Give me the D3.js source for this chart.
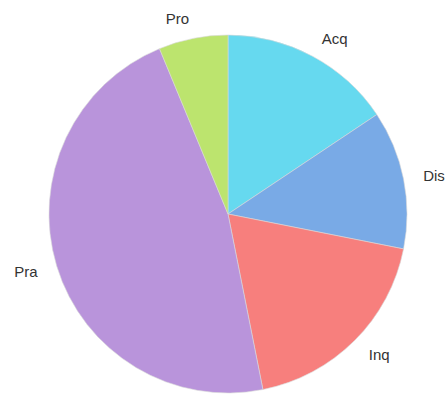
<!DOCTYPE html>
<html>
<head>
<meta charset="utf-8">
<script src="https://cdn.jsdelivr.net/npm/d3@7"></script>
<style>
  html, body { margin: 0; padding: 0; background: #fff; }
  svg { display: block; }
</style>
</head>
<body>
<svg id="chart" width="448" height="394"></svg>
<script>
// Pie of counts per category, clockwise from 12 o'clock
const categories = ["Acq", "Dis", "Inq", "Pra", "Pro"];
const values = [5, 4, 6, 15, 2];
const colors = ["#66d9ef", "#79aae6", "#f77f7d", "#b994db", "#bce46e"];

const width = 448, height = 394;
const cx = 228, cy = 214, radius = 179, labelRadius = 199;

const data = categories.map((c, i) => ({ name: c, value: values[i], color: colors[i] }));

const svg = d3.select("#chart");
const g = svg.append("g").attr("transform", `translate(${cx},${cy})`);

const pie = d3.pie().value(d => d.value).sort(null);
const arc = d3.arc().innerRadius(0).outerRadius(radius);
const labelArc = d3.arc().innerRadius(labelRadius).outerRadius(labelRadius);

const arcs = pie(data);

g.selectAll("path.slice")
  .data(arcs)
  .join("path")
  .attr("class", "slice")
  .attr("d", arc)
  .attr("fill", d => d.data.color)
  .attr("stroke", "#d8d8d8")
  .attr("stroke-width", 0.6);

// Labels sit just outside the rim, anchored away from the pie
const midAngle = d => (d.startAngle + d.endAngle) / 2;

g.selectAll("text.label")
  .data(arcs)
  .join("text")
  .attr("class", "label")
  .attr("transform", d => `translate(${labelArc.centroid(d)})`)
  .attr("text-anchor", d => midAngle(d) < Math.PI ? "start" : "end")
  .attr("dominant-baseline", "central")
  .attr("font-family", "Liberation Sans, Arial, sans-serif")
  .attr("font-size", 15)
  .attr("fill", "#333")
  .text(d => d.data.name);
</script>
</body>
</html>
